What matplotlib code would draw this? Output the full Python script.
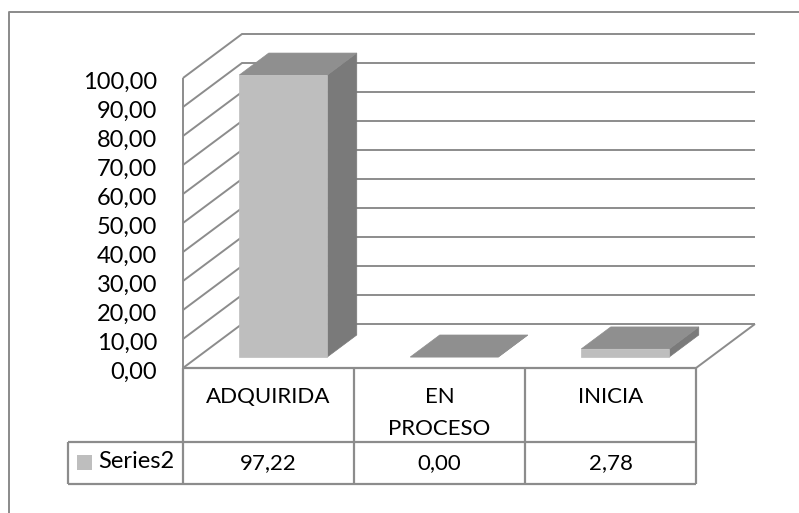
import matplotlib
matplotlib.use("Agg")
import matplotlib.pyplot as plt
from matplotlib.lines import Line2D
from matplotlib.patches import Polygon, Rectangle
from matplotlib.transforms import ScaledTranslation

categories = ["ADQUIRIDA", "EN\nPROCESO", "INICIA"]
series_name = "Series2"
values = [97.22, 0.00, 2.78]
value_labels = ["97,22", "0,00", "2,78"]
y_ticks = [0, 10, 20, 30, 40, 50, 60, 70, 80, 90, 100]
y_tick_labels = ["0,00", "10,00", "20,00", "30,00", "40,00", "50,00",
                 "60,00", "70,00", "80,00", "90,00", "100,00"]

W, H = 799, 513
plt.rcParams["font.family"] = ["Lato", "DejaVu Sans"]
fig = plt.figure(figsize=(W / 100, H / 100), dpi=100)
fig.patch.set_facecolor("white")

# plot box in pixels
L, R, T, B = 183, 696, 78, 368
ax = fig.add_axes([L / W, 1 - B / H, (R - L) / W, (B - T) / H])
ax.set_xlim(0, 3)
ax.set_ylim(0, 100)
ax.patch.set_alpha(0)
for s in ax.spines.values():
    s.set_visible(False)

ux = 171.0   # px per category
uy = 2.9     # px per value unit
DX, DY = 59 / ux, 44 / uy  # oblique depth vector in data units


def proj(x, y, d=0.0):
    return x + d * DX, y + d * DY


GRID = "#8c8c8c"
LW = 1.4


def seg(pts, color=GRID, lw=LW, z=1):
    ax.plot([p[0] for p in pts], [p[1] for p in pts], color=color, lw=lw,
            clip_on=False, zorder=z, solid_capstyle="butt", solid_joinstyle="miter")


# walls and floor
xmax = len(categories)
for t in y_ticks:
    seg([proj(0, t), proj(0, t, 1), proj(xmax, t, 1)])
seg([proj(0, 0), proj(0, 100)])
seg([proj(xmax, 0), proj(xmax, 0, 1)])
seg([proj(0, 0), proj(xmax, 0)], lw=1.6, z=6)

# bars
FRONT, TOP, SIDE = "#bebebe", "#8f8f8f", "#7a7a7a"
bw = 88 / ux
for i, v in enumerate(values):
    x0 = i + 0.5 - bw / 2
    x1 = x0 + bw
    d0, d1 = 0.25, 0.75
    faces = [
        ([proj(x1, 0, d0), proj(x1, 0, d1), proj(x1, v, d1), proj(x1, v, d0)], SIDE),
        ([proj(x0, v, d0), proj(x1, v, d0), proj(x1, v, d1), proj(x0, v, d1)], TOP),
        ([proj(x0, 0, d0), proj(x1, 0, d0), proj(x1, v, d0), proj(x0, v, d0)], FRONT),
    ]
    for pts, c in faces:
        ax.add_patch(Polygon(pts, closed=True, facecolor=c, edgecolor=c, lw=0.5,
                             clip_on=False, zorder=4))

# value axis
ax.set_yticks(y_ticks)
ax.set_yticklabels(y_tick_labels, fontsize=17, color="black")
ax.tick_params(axis="y", length=0, pad=18.5)
ax.set_xticks([])
shift = ScaledTranslation(0, -2 / 100, fig.dpi_scale_trans)
for lab in ax.get_yticklabels():
    lab.set_transform(lab.get_transform() + shift)

# data table (rows given in value units below the floor)
row1 = -74 / uy
row2 = -116 / uy
legend_left = -115 / ux
for x in range(xmax + 1):
    seg([(x, 0), (x, row2)], lw=1.6, z=6)
seg([(legend_left, row1), (xmax, row1)], lw=1.6, z=6)
seg([(legend_left, row2), (xmax, row2)], lw=1.6, z=6)
seg([(legend_left, row1), (legend_left, row2)], lw=1.6, z=6)

for i, (c, vl) in enumerate(zip(categories, value_labels)):
    ax.text(i + 0.5, -19 / uy, c, ha="center", va="top", fontsize=16,
            linespacing=1.72, clip_on=False)
    ax.text(i + 0.5, -95.5 / uy, vl, ha="center", va="center", fontsize=16, clip_on=False)

ax.add_patch(Rectangle((-106 / ux, -102 / uy), 15 / ux, 15 / uy, facecolor=FRONT,
                       edgecolor="none", clip_on=False, zorder=6))
ax.text(-85 / ux, -93.5 / uy, series_name, ha="left", va="center", fontsize=17, clip_on=False)

# chart-area frame, running off the right and bottom edge
fx, fy = 9 / W, 1 - 12 / H
fig.add_artist(Line2D([fx, fx, 1], [0, fy, fy], color="#8a8a8a", lw=1.4))

fig.savefig("out.png", dpi=100)
